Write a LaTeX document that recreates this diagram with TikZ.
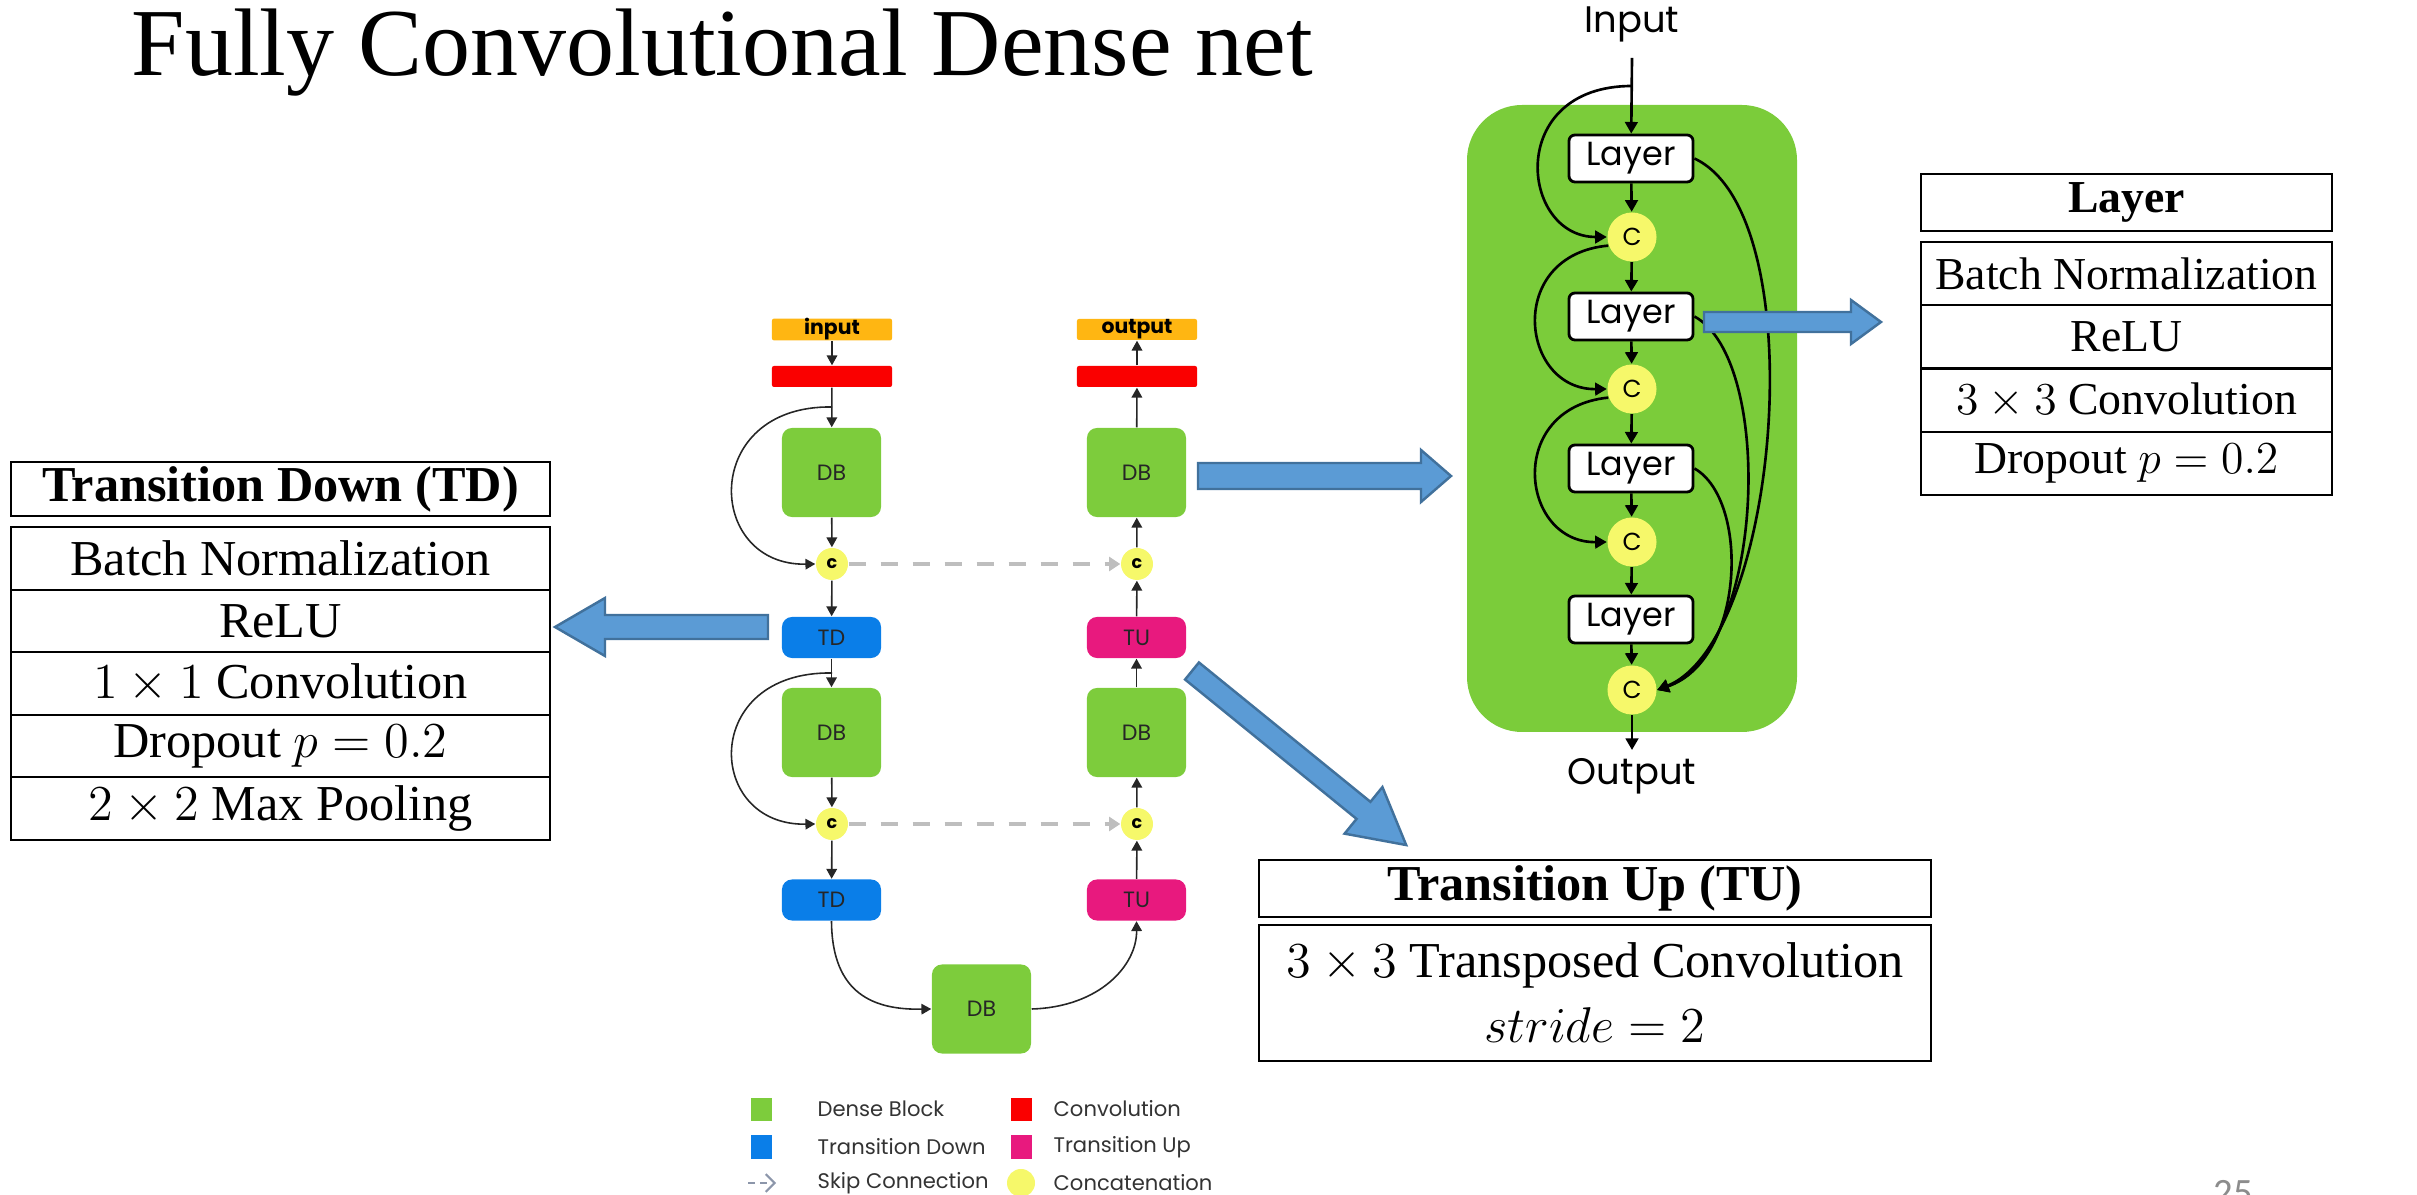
\RequirePackage{fix-cm}
\documentclass[tikz,border=0pt]{standalone}
\usepackage{fontspec}
\setmainfont{Liberation Serif}
\newfontfamily\gothic{Poppins}
\newfontfamily\calib{Carlito}
\usetikzlibrary{arrows.meta}
\definecolor{dbg}{RGB}{125,204,60}
\definecolor{bgg}{RGB}{123,204,58}
\definecolor{tdb}{RGB}{10,126,232}
\definecolor{tum}{RGB}{232,25,126}
\definecolor{convred}{RGB}{250,0,0}
\definecolor{ioc}{RGB}{255,182,18}
\definecolor{cyel}{RGB}{246,248,106}
\definecolor{skipg}{RGB}{190,190,190}
\definecolor{barf}{RGB}{91,155,213}
\definecolor{bard}{RGB}{65,113,156}
\definecolor{legg}{RGB}{140,150,170}
\begin{document}
\begin{tikzpicture}[x=0.01cm,y=-0.01cm,
  ublock/.style={rounded corners=0.1cm, minimum width=0.99cm, inner sep=0, text=black!85, font=\gothic\fontsize{6.3}{7}\selectfont},
  dbn/.style={ublock, fill=dbg, minimum height=0.89cm},
  tdn/.style={ublock, fill=tdb, minimum height=0.41cm},
  tun/.style={ublock, fill=tum, minimum height=0.41cm},
  iobox/.style={fill=ioc, minimum width=1.2cm, minimum height=0.21cm, inner sep=0, rounded corners=0.02cm, font=\gothic\bfseries\fontsize{5.8}{6}\selectfont},
  convbox/.style={fill=convred, minimum width=1.2cm, minimum height=0.21cm, inner sep=0, rounded corners=0.02cm},
  cc/.style={circle, fill=cyel, minimum size=0.32cm, inner sep=0, font=\gothic\bfseries\fontsize{5}{5}\selectfont},
  uarr/.style={-{Triangle[length=2.8pt,width=3pt]}, line width=0.45pt, black!85},
  skipline/.style={-{Triangle[length=3.2pt,width=4pt]}, line width=1.1pt, skipg, dash pattern=on 4.8pt off 4.3pt},
  lay/.style={draw=black, line width=0.8pt, fill=white, rounded corners=0.06cm, minimum width=1.24cm, minimum height=0.47cm, inner sep=0, font=\gothic\fontsize{9.5}{10}\selectfont},
  kc/.style={circle, fill=cyel, minimum size=0.49cm, inner sep=0, font=\gothic\fontsize{7}{7}\selectfont},
  darr/.style={-{Triangle[length=3.3pt,width=3.6pt]}, line width=0.75pt},
  tbl/.style={draw, line width=0.6pt, inner sep=0, align=center},
  barrow/.style={fill=barf, draw=bard, line width=0.7pt},
  leg/.style={anchor=west, inner sep=0, text=black!80, font=\gothic\fontsize{6}{7}\selectfont},
  lsq/.style={minimum width=0.21cm, minimum height=0.23cm, inner sep=0}
]
\useasboundingbox (0,0) rectangle (2417,1195);

% title
\node[anchor=base west, inner sep=0, font=\fontsize{27.3}{30}\selectfont] (title) at (131,76) {Fully Convolutional Dense net};

% ---------- U-net ----------
\node[iobox] (inp) at (832,329.5) {input};
\node[convbox] (conv1) at (832,376.5) {};
\node[dbn] (db1) at (831.5,472.5) {DB};
\node[cc] (c1) at (832,564) {c};
\node[tdn] (td1) at (831.5,637.5) {TD};
\node[dbn] (db2) at (831.5,732.5) {DB};
\node[cc] (c2) at (832,824) {c};
\node[tdn] (td2) at (831.5,900) {TD};
\node[dbn] (db3) at (981.5,1009) {DB};
\node[tun] (tu2) at (1136.5,900) {TU};
\node[cc] (c2r) at (1137,824) {c};
\node[dbn] (db2r) at (1136.5,732.5) {DB};
\node[tun] (tu1) at (1136.5,637.5) {TU};
\node[cc] (c1r) at (1137,564) {c};
\node[dbn] (db1r) at (1136.5,472.5) {DB};
\node[convbox] (conv2) at (1137,376.5) {};
\node[iobox] (out) at (1137,329.5) {output};

\draw[uarr] (inp) -- (conv1);
\draw[uarr] (conv1) -- (db1);
\draw[uarr] (db1) -- (c1);
\draw[uarr] (c1) -- (td1);
\draw[uarr] (td1) -- (db2);
\draw[uarr] (db2) -- (c2);
\draw[uarr] (c2) -- (td2);
\coordinate (s1) at (832,407);
\coordinate (s2) at (832,673);
\draw[uarr] (s1) .. controls (700,405) and (705,566) .. (c1.west);
\draw[uarr] (s2) .. controls (700,671) and (705,826) .. (c2.west);
\draw[uarr] (td2.south) .. controls (832,995) and (875,1010) .. (db3.west);
\draw[uarr] (db3.east) .. controls (1100,1007) and (1137,965) .. (tu2.south);
\draw[uarr] (tu2) -- (c2r);
\draw[uarr] (c2r) -- (db2r);
\draw[uarr] (db2r) -- (tu1);
\draw[uarr] (tu1) -- (c1r);
\draw[uarr] (c1r) -- (db1r);
\draw[uarr] (db1r) -- (conv2);
\draw[uarr] (conv2) -- (out);
\draw[skipline] (c1) -- (c1r);
\draw[skipline] (c2) -- (c2r);

% legend
\node[lsq, fill=dbg] (lg1) at (761,1109.5) {};
\node[lsq, fill=tdb] (lg2) at (761,1147) {};
\coordinate (lga) at (748,1183);
\coordinate (lgb) at (776,1183);
\draw[legg, line width=0.6pt, dash pattern=on 2pt off 1.5pt, -{Straight Barb[length=2.5pt,width=5pt]}] (lga) -- (lgb);
\node[leg] (lt1) at (817,1109) {Dense Block};
\node[leg] (lt2) at (817,1147) {Transition Down};
\node[leg] (lt3) at (817,1183) {Skip Connection};
\node[lsq, fill=convred] (lg4) at (1021,1109.5) {};
\node[lsq, fill=tum] (lg5) at (1021,1147) {};
\node[circle, fill=cyel, minimum size=0.28cm, inner sep=0] (lg6) at (1021,1183) {};
\node[leg] (lt4) at (1053,1109) {Convolution};
\node[leg] (lt5) at (1053,1147) {Transition Up};
\node[leg] (lt6) at (1053,1183) {Concatenation};

% ---------- Dense block detail ----------
\fill[bgg, rounded corners=0.55cm] (1467,105) rectangle (1797,732);
\node[inner sep=0, font=\gothic\fontsize{10.5}{11}\selectfont] (dIn) at (1632,24) {Input};
\coordinate (dtop) at (1632,58);
\coordinate (br) at (1632,86);
\node[lay] (L1) at (1631,158.5) {Layer};
\node[kc] (K1) at (1632,237) {C};
\node[lay] (L2) at (1631,316.5) {Layer};
\node[kc] (K2) at (1632,389) {C};
\node[lay] (L3) at (1631,468.5) {Layer};
\node[kc] (K3) at (1632,542) {C};
\node[lay] (L4) at (1631,619.5) {Layer};
\node[kc] (K4) at (1632,690) {C};
\coordinate (dout) at (1632,750);
\node[anchor=north, inner sep=0, font=\gothic\fontsize{10.5}{11}\selectfont] (dOut) at (1632,758) {Output};

\draw[darr] (dtop) -- (L1);
\draw[darr] (L1) -- (K1);
\draw[darr] (K1) -- (L2);
\draw[darr] (L2) -- (K2);
\draw[darr] (K2) -- (L3);
\draw[darr] (L3) -- (K3);
\draw[darr] (K3) -- (L4);
\draw[darr] (L4) -- (K4);
\draw[darr] (K4) -- (dout);
\draw[darr] (br) .. controls (1505,86) and (1520,237) .. (K1.west);
\draw[darr] (K1.200) .. controls (1505,255) and (1520,390) .. (K2.west);
\draw[darr] (K2.200) .. controls (1505,408) and (1520,543) .. (K3.west);
\draw[darr] (L1.east) .. controls (1815,215) and (1780,640) .. (K4.east);
\draw[darr] (L2.east) .. controls (1775,360) and (1765,650) .. (K4.east);
\draw[darr] (L3.east) .. controls (1750,500) and (1745,660) .. (K4.east);

% ---------- block arrows ----------
\draw[barrow] (1198,463) -- (1421,463) -- (1421,450) -- (1451,476) -- (1421,502) -- (1421,489) -- (1198,489) -- cycle;
\draw[barrow] (1704,312) -- (1851,312) -- (1851,300) -- (1881,322) -- (1851,344) -- (1851,332) -- (1704,332) -- cycle;
\draw[barrow] (768,615) -- (605,615) -- (605,598) -- (555,627) -- (605,656) -- (605,639) -- (768,639) -- cycle;
\begin{scope}[shift={(1192,671)}, rotate=-39.1]
\draw[barrow] (0,-11) -- (221,-11) -- (221,-30) -- (276,0) -- (221,30) -- (221,11) -- (0,11) -- cycle;
\end{scope}

% ---------- TD table ----------
\begin{scope}[every node/.style={tbl, minimum width=5.39cm, font=\fontsize{14.3}{17}\selectfont}]
\node[minimum height=0.54cm, font=\bfseries\fontsize{14.3}{17}\selectfont] (tdh) at (280.5,489) {Transition Down (TD)};
\node[minimum height=0.626cm] (td-r1) at (280.5,558.3) {Batch Normalization};
\node[minimum height=0.626cm] (td-r2) at (280.5,620.9) {ReLU};
\node[minimum height=0.626cm] (td-r3) at (280.5,683.5) {$1\times 1$ Convolution};
\node[minimum height=0.626cm] (td-r4) at (280.5,746.1) {Dropout $p=0.2$};
\node[minimum height=0.626cm] (td-r5) at (280.5,808.7) {$2\times 2$ Max Pooling};
\end{scope}

% ---------- Layer table ----------
\begin{scope}[every node/.style={tbl, minimum width=4.11cm, font=\fontsize{13}{15}\selectfont}]
\node[minimum height=0.57cm, font=\bfseries\fontsize{13}{15}\selectfont] (lyh) at (2126.5,202.5) {Layer};
\node[minimum height=0.6325cm] (ly-r1) at (2126.5,273.6) {Batch Normalization};
\node[minimum height=0.6325cm] (ly-r2) at (2126.5,336.9) {ReLU};
\node[minimum height=0.6325cm] (ly-r3) at (2126.5,400.1) {$3\times 3$ Convolution};
\node[minimum height=0.6325cm] (ly-r4) at (2126.5,463.4) {Dropout $p=0.2$};
\end{scope}

% ---------- TU table ----------
\begin{scope}[every node/.style={tbl, minimum width=6.72cm, font=\fontsize{14.3}{18.5}\selectfont}]
\node[minimum height=0.57cm, font=\bfseries\fontsize{14.3}{17}\selectfont] (tuh) at (1595,888.5) {Transition Up (TU)};
\node[minimum height=1.36cm] (tu-b) at (1595,993) {$3\times 3$ Transposed Convolution\\$stride=2$};
\end{scope}

% page number
\node[anchor=north, inner sep=0, text=black!45, font=\calib\fontsize{11}{12}\selectfont] (pg) at (2233,1180) {25};
\end{tikzpicture}
\end{document}
